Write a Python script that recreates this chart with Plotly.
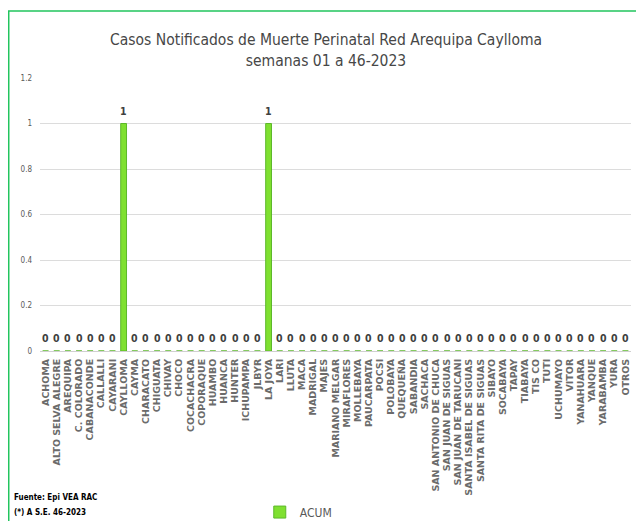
import plotly.graph_objects as go

categories = ["ACHOMA", "ALTO SELVA ALEGRE", "AREQUIPA", "C. COLORADO", "CABANACONDE", "CALLALLI",
              "CAYARANI", "CAYLLOMA", "CAYMA", "CHARACATO", "CHIGUATA", "CHIVAY", "CHOCO",
              "COCACHACRA", "COPORAQUE", "HUAMBO", "HUANCA", "HUNTER", "ICHUPAMPA", "JLBYR",
              "LA JOYA", "LARI", "LLUTA", "MACA", "MADRIGAL", "MAJES", "MARIANO MELGAR",
              "MIRAFLORES", "MOLLEBAYA", "PAUCARPATA", "POCSI", "POLOBAYA", "QUEQUEÑA",
              "SABANDIA", "SACHACA", "SAN ANTONIO DE CHUCA", "SAN JUAN DE SIGUAS",
              "SAN JUAN DE TARUCANI", "SANTA ISABEL DE SIGUAS", "SANTA RITA DE SIGUAS",
              "SIBAYO", "SOCABAYA", "TAPAY", "TIABAYA", "TIS CO", "TUTI", "UCHUMAYO", "VITOR",
              "YANAHUARA", "YANQUE", "YARABAMBA", "YURA", "OTROS"]
acum = [0] * len(categories)
acum[categories.index("CAYLLOMA")] = 1
acum[categories.index("LA JOYA")] = 1

y_ticks = [0, 0.2, 0.4, 0.6, 0.8, 1, 1.2]
y_tick_text = ["0", "0.2", "0.4", "0.6", "0.8", "1", "1.2"]

narrow = "DejaVu Sans Condensed, Liberation Sans Narrow, sans-serif"

fig = go.Figure()
fig.add_trace(go.Bar(
    x=categories, y=acum, name="ACUM",
    marker=dict(color="#7FE030", line=dict(color="#5CB82A", width=1)),
    width=0.52,
))

# data labels above each bar
value_labels = [
    dict(x=c, y=v, xref="x", yref="y", text=str(v), showarrow=False, yshift=13,
         font=dict(family="DejaVu Sans Condensed", size=10.5, color="#404040", weight="bold"))
    for c, v in zip(categories, acum)
]

fig.update_layout(
    width=636, height=513,
    paper_bgcolor="white", plot_bgcolor="white",
    margin=dict(l=32, r=13, t=70, b=170, autoexpand=False),
    title=dict(text="Casos Notificados de Muerte Perinatal Red Arequipa Caylloma<br>semanas 01 a 46-2023",
               x=0.5, xanchor="center", y=0.927, yanchor="top",
               font=dict(family=narrow, size=15.5, color="#474747")),
    showlegend=True,
    legend=dict(orientation="h", x=0.437, xanchor="center", y=-0.59, yanchor="middle",
                font=dict(family=narrow, size=12, color="#595959"),
                itemwidth=30, bgcolor="rgba(0,0,0,0)"),
    xaxis=dict(type="category", range=[-0.5, len(categories) - 0.5], automargin=False,
               tickangle=-90, showgrid=False, showline=True, linecolor="#D0D0D0", linewidth=1,
               ticks="", ticklabelstandoff=3,
               tickfont=dict(family="DejaVu Sans", size=9.5, color="#6B6B6B", weight="bold")),
    yaxis=dict(range=[0, 1.2], tickvals=y_ticks, ticktext=y_tick_text, automargin=False,
               showgrid=True, gridcolor="#DCDCDC", gridwidth=1, zeroline=False,
               tickfont=dict(family=narrow, size=8, color="#595959"), ticks="",
               ticklabelstandoff=7),
    annotations=value_labels + [
        dict(text="<b>Fuente: Epi VEA RAC</b>", xref="paper", yref="paper",
             x=-0.0474, y=-0.535, xanchor="left", yanchor="middle", showarrow=False,
             font=dict(family=narrow, size=8, color="#000000")),
        dict(text="<b>(*) A S.E. 46-2023</b>", xref="paper", yref="paper",
             x=-0.0474, y=-0.593, xanchor="left", yanchor="middle", showarrow=False,
             font=dict(family=narrow, size=8, color="#000000")),
    ],
    shapes=[
        dict(type="rect", xref="paper", yref="paper", x0=-0.0529, x1=1.0203, y0=-0.72, y1=1.2454,
             line=dict(color="#22C55E", width=1.5), fillcolor="rgba(0,0,0,0)", layer="below"),
    ],
)

fig.write_html("out.html")
